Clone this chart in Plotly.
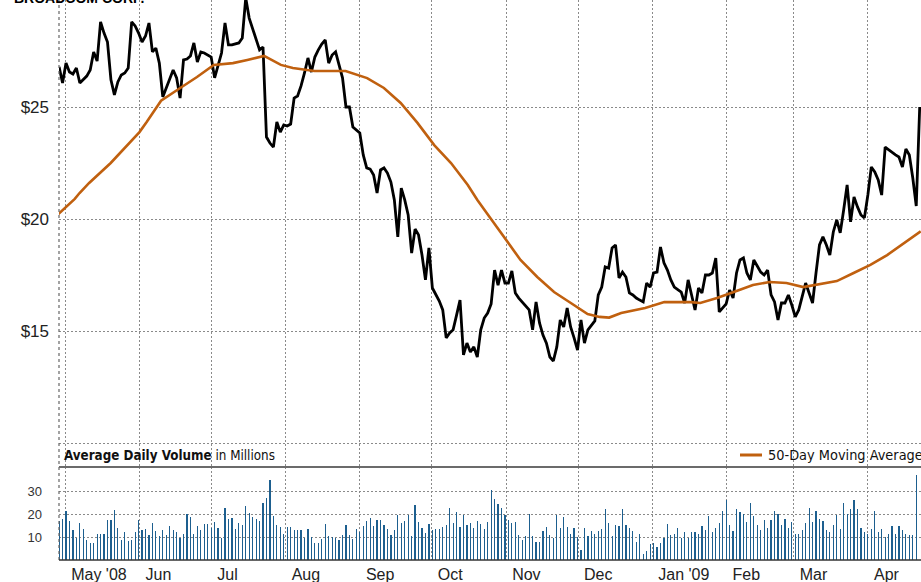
import pandas as pd
import plotly.graph_objects as go

# ---------------- data ----------------
title_text = "BROADCOM CORP."
first_session = "2008-04-28 11:00"
last_session = "2009-04-22 14:00"

close_price = [
    26.79, 26.07, 26.96, 26.56, 26.47, 26.74, 26.07, 26.21, 26.38, 26.65,
    27.46, 27.05, 28.80, 28.30, 27.90, 26.21, 25.54, 26.12, 26.43, 26.52,
    26.74, 28.80, 28.62, 28.30, 27.90, 28.17, 28.75, 27.46, 27.63, 26.96,
    25.45, 25.85, 26.21, 26.65, 26.30, 25.40, 27.10, 27.14, 27.28, 27.86,
    27.01, 27.46, 27.41, 27.32, 27.23, 26.30, 26.88, 27.41, 28.75, 27.77,
    27.77, 27.81, 27.86, 28.08, 29.87, 28.97, 28.53, 27.99, 27.55, 27.68,
    23.66, 23.39, 23.21, 24.33, 23.88, 24.20, 24.15, 24.24, 25.40, 25.49,
    25.94, 26.52, 27.19, 26.56, 27.23, 27.55, 27.81, 27.99, 26.96, 27.32,
    27.46, 26.88, 26.30, 25.00, 25.00, 24.11, 23.97, 23.84, 22.86, 22.28,
    22.23, 21.96, 21.16, 22.19, 22.28, 22.05, 21.65, 20.85, 19.20, 21.38,
    20.85, 20.18, 18.48, 19.55, 19.29, 18.39, 17.28, 18.71, 16.92, 16.65,
    16.34, 15.94, 14.69, 14.91, 15.05, 15.71, 16.38, 13.93, 14.46, 14.06,
    14.29, 13.84, 15.05, 15.58, 15.80, 16.21, 17.72, 17.05, 17.72, 17.14,
    17.14, 17.68, 16.70, 16.47, 16.30, 16.12, 15.94, 15.05, 16.30, 15.36,
    14.82, 14.46, 13.84, 13.66, 14.29, 15.49, 15.18, 16.03, 15.18, 14.69,
    14.15, 15.49, 14.46, 15.05, 15.27, 15.45, 16.61, 16.96, 17.86, 17.81,
    18.71, 18.84, 17.37, 17.63, 17.41, 16.70, 16.61, 16.47, 16.38, 16.30,
    17.14, 16.96, 17.59, 17.63, 18.75, 18.04, 17.72, 17.28, 16.96, 16.83,
    16.74, 16.25, 17.28, 16.61, 15.94, 16.92, 16.70, 17.50, 17.50, 17.59,
    18.26, 15.85, 16.03, 16.21, 16.83, 16.47, 17.59, 18.17, 18.26, 17.59,
    17.28, 18.17, 17.90, 17.63, 17.50, 17.72, 16.61, 16.30, 15.49, 16.25,
    16.25, 16.61, 16.16, 15.63, 15.94, 16.52, 17.14, 16.70, 16.25, 17.59,
    18.84, 19.20, 18.84, 18.39, 19.42, 19.96, 19.38, 20.40, 21.52, 19.87,
    20.98, 20.54, 20.18, 20.05, 21.07, 22.32, 22.10, 21.74, 21.07, 23.21,
    23.08, 22.99, 22.86, 22.77, 22.32, 23.13, 22.86, 21.83, 20.58, 25.00,
]

volume_millions = [
    17.0, 18.0, 21.2, 16.9, 13.0, 9.4, 15.9, 13.4, 8.7, 7.2,
    7.6, 11.5, 11.5, 11.5, 17.6, 17.6, 21.6, 14.1, 8.7, 12.0,
    8.2, 8.7, 12.0, 17.6, 13.0, 13.3, 10.7, 16.3, 12.6, 10.4,
    13.0, 10.7, 15.0, 13.0, 12.0, 9.4, 11.5, 20.2, 18.5, 11.5,
    14.7, 13.0, 15.6, 15.6, 14.0, 16.5, 13.7, 9.4, 22.5, 17.7,
    18.3, 13.4, 16.3, 15.2, 23.4, 20.6, 18.5, 18.0, 16.9, 24.7,
    27.1, 34.6, 19.0, 15.2, 14.3, 11.1, 14.4, 14.4, 13.0, 13.0,
    13.0, 9.7, 13.4, 9.8, 7.4, 7.4, 9.1, 15.6, 10.4, 10.0,
    9.7, 8.7, 10.7, 15.2, 10.7, 9.1, 13.4, 12.0, 14.7, 16.9,
    18.3, 14.7, 17.3, 17.3, 15.2, 13.4, 10.8, 13.0, 19.5, 16.2,
    17.0, 19.5, 10.4, 23.8, 16.5, 14.0, 11.8, 15.6, 13.0, 13.4,
    13.4, 14.3, 15.2, 22.5, 16.0, 20.8, 14.3, 19.5, 15.2, 15.9,
    14.0, 16.9, 15.6, 13.4, 16.6, 30.3, 26.4, 24.2, 22.7, 19.5,
    17.6, 16.2, 16.5, 10.8, 8.7, 10.4, 20.2, 10.4, 7.8, 7.8,
    12.6, 14.3, 10.7, 9.4, 19.5, 14.1, 18.5, 14.3, 11.3, 13.7,
    10.1, 4.3, 13.7, 10.4, 12.6, 11.5, 12.6, 13.4, 22.1, 15.9,
    10.5, 15.4, 15.0, 22.1, 15.4, 14.1, 12.6, 7.8, 11.1, 2.6,
    3.9, 6.9, 7.2, 5.6, 7.6, 9.4, 15.6, 10.7, 11.5, 14.1,
    9.4, 12.0, 9.7, 12.0, 12.1, 11.1, 14.7, 13.0, 19.0, 12.1,
    14.0, 16.2, 21.2, 26.0, 15.4, 12.7, 22.1, 20.9, 20.2, 16.5,
    24.7, 19.0, 15.4, 13.0, 17.6, 13.7, 17.3, 21.2, 20.2, 15.2,
    17.7, 13.7, 16.5, 11.1, 11.3, 13.0, 15.9, 22.8, 16.6, 21.2,
    18.0, 16.9, 13.0, 12.0, 15.4, 19.5, 13.4, 24.7, 20.2, 22.1,
    26.0, 22.1, 13.7, 12.3, 11.5, 13.4, 21.4, 12.3, 13.4, 10.1,
    11.3, 14.7, 11.5, 15.0, 13.0, 11.3, 10.8, 10.8, 36.8, None,
]

ma_dates = [
    "2008-04-28", "2008-05-05", "2008-05-07", "2008-05-11", "2008-05-20",
    "2008-05-27", "2008-06-01", "2008-06-04", "2008-06-10", "2008-06-18",
    "2008-06-25", "2008-07-02", "2008-07-10", "2008-07-16", "2008-07-23",
    "2008-07-30", "2008-08-04", "2008-08-13", "2008-08-26", "2008-09-04",
    "2008-09-11", "2008-09-18", "2008-09-25", "2008-10-02", "2008-10-09",
    "2008-10-16", "2008-10-20", "2008-10-26", "2008-11-02", "2008-11-07",
    "2008-11-14", "2008-11-21", "2008-11-28", "2008-12-05", "2008-12-10",
    "2008-12-14", "2008-12-19", "2008-12-29", "2009-01-06", "2009-01-17",
    "2009-01-21", "2009-01-28", "2009-02-04", "2009-02-12", "2009-02-19",
    "2009-02-26", "2009-03-05", "2009-03-10", "2009-03-19", "2009-03-26",
    "2009-04-02", "2009-04-09", "2009-04-16", "2009-04-23",
]
ma_values = [
    20.20, 20.90, 21.16, 21.61, 22.50,
    23.28, 23.88, 24.33, 25.28, 25.85,
    26.34, 26.88, 26.96, 27.10, 27.28,
    26.88, 26.74, 26.61, 26.61, 26.29,
    25.85, 25.18, 24.29, 23.30, 22.50,
    21.52, 20.85, 19.96, 18.93, 18.17,
    17.41, 16.74, 16.25, 15.76, 15.63,
    15.60, 15.80, 16.03, 16.29, 16.29,
    16.25, 16.47, 16.74, 17.05, 17.19,
    17.14, 16.96, 17.05, 17.23, 17.59,
    17.95, 18.39, 18.93, 19.45,
]

month_starts = ["2008-05-01", "2008-06-01", "2008-07-01", "2008-08-01", "2008-09-01",
                "2008-10-01", "2008-11-01", "2008-12-01", "2009-01-01", "2009-02-01",
                "2009-03-01", "2009-04-01"]
month_labels = ["May '08", "Jun", "Jul", "Aug", "Sep", "Oct", "Nov", "Dec",
                "Jan '09", "Feb", "Mar", "Apr"]

price_ticks = [10, 15, 20, 25, 30]
price_tick_labels = ["", "$15", "$20", "$25", "$30"]
volume_ticks = [10, 20, 30]
volume_tick_labels = ["10", "20", "30"]

# ---------------- figure ----------------
sessions = pd.date_range(first_session, last_session, periods=len(close_price))

W, H = 921, 582
ML, MB = 59, 22
plot_h = H - MB
split = (560 - 467) / plot_h

grid = "#8a8a8a"
dash = "2px,2px"
font_main = "Liberation Sans, Arial, Helvetica, sans-serif"
font_narrow = "DejaVu Sans Condensed, Liberation Sans Narrow, Arial Narrow, sans-serif"

fig = go.Figure()
fig.add_trace(go.Bar(x=sessions, y=volume_millions, xaxis="x2", yaxis="y2",
                     marker=dict(color="#1d5f8f", line=dict(width=0)),
                     width=0.5 * 86400000, showlegend=False, hoverinfo="skip"))
fig.add_trace(go.Scatter(x=sessions, y=close_price, mode="lines",
                         line=dict(color="#000000", width=2.8),
                         showlegend=False, hoverinfo="skip"))
fig.add_trace(go.Scatter(x=pd.to_datetime(ma_dates), y=ma_values, mode="lines",
                         line=dict(color="#c0600f", width=2.6),
                         showlegend=False, hoverinfo="skip"))

xrange = ["2008-04-28 10:00", "2009-04-23 03:00"]
common_x = dict(range=xrange, type="date", showgrid=True, gridcolor=grid, griddash=dash,
                gridwidth=1, tickvals=month_starts, zeroline=False, showline=False)

fig.update_layout(
    width=W, height=H,
    margin=dict(l=ML, r=0, t=0, b=MB, autoexpand=False),
    paper_bgcolor="white", plot_bgcolor="white",
    bargap=0,
    xaxis=dict(**common_x, anchor="y", showticklabels=False, ticks=""),
    xaxis2=dict(**common_x, anchor="y2", matches="x", ticktext=month_labels,
                showticklabels=True, ticks="", ticklabelposition="outside right",
                ticklabelstandoff=3, ticklabelshift=6,
                tickfont=dict(family=font_main, size=16, color="#222")),
    yaxis=dict(domain=[split, 1], range=[25 - (467 - 107) / 22.4, 25 + 107 / 22.4],
               tickvals=price_ticks, ticktext=price_tick_labels, showgrid=True,
               gridcolor=grid, griddash=dash, zeroline=False, ticks="",
               ticklabelstandoff=9, tickfont=dict(family=font_main, size=17, color="#222")),
    yaxis2=dict(domain=[0, split], range=[0, 93 / 2.3], tickvals=volume_ticks,
                ticktext=volume_tick_labels, showgrid=True, gridcolor=grid, griddash=dash,
                zeroline=False, ticks="", ticklabelstandoff=16,
                tickfont=dict(family=font_main, size=13, color="#333")),
)

shapes = [
    dict(type="line", xref="paper", yref="paper", x0=0, x1=0, y0=0, y1=1,
         line=dict(color="#666", width=1.2, dash="dot")),
    dict(type="line", xref="paper", yref="paper", x0=0, x1=1, y0=split, y1=split,
         line=dict(color="#6b6b6b", width=2.2)),
    dict(type="line", xref="paper", yref="paper", x0=0, x1=1, y0=0, y1=0,
         line=dict(color="#333", width=1.6)),
    dict(type="line", xref="paper", yref="paper",
         x0=(740 - ML) / 862, x1=(762 - ML) / 862,
         y0=(560 - 455) / plot_h, y1=(560 - 455) / plot_h,
         line=dict(color="#c0600f", width=3)),
]
fig.update_layout(shapes=shapes)

annotations = [
    dict(text="<b>" + title_text + "</b>", xref="paper", yref="paper",
         x=(12 - ML) / 862, y=1 - 8.5 / plot_h, xanchor="left", yanchor="bottom",
         showarrow=False, font=dict(family=font_main, size=14, color="#000")),
    dict(text="<b>Average Daily Volume</b> in Millions", xref="paper", yref="paper",
         x=(62 - ML) / 862, y=(560 - 455) / plot_h, xanchor="left", yanchor="middle",
         showarrow=False, font=dict(family=font_narrow, size=13.3, color="#111")),
    dict(text="50-Day Moving Average", xref="paper", yref="paper",
         x=(766 - ML) / 862, y=(560 - 455) / plot_h, xanchor="left", yanchor="middle",
         showarrow=False, font=dict(family=font_narrow, size=14.4, color="#111")),
]
fig.update_layout(annotations=annotations)

fig.write_html("out.html",
               config={"displayModeBar": False, "staticPlot": True},
               post_script="document.body.style.margin='0px';"
                           "document.body.style.overflow='hidden';")
